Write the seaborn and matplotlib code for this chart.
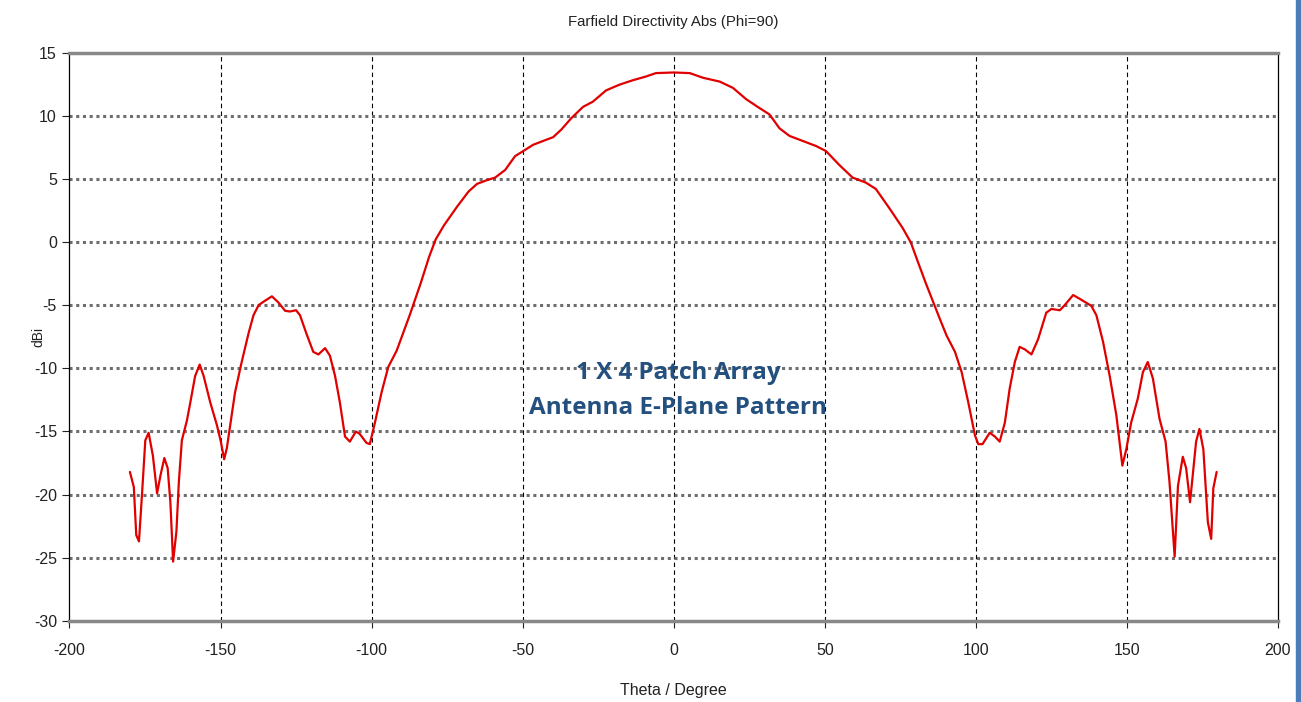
import matplotlib
matplotlib.use('Agg')

import pandas as pd
import matplotlib.pyplot as plt
import seaborn as sns
from matplotlib.patches import Rectangle

# valores (theta em graus, diretividade em dBi)
theta = [-180, -178.7, -177.9, -177, -176, -174.9, -173.8, -172.4, -171, -169.9,
         -168.6, -167.5, -166.6, -165.7, -164.6, -163.8, -162.8, -161.1, -160, -158.4,
         -156.9, -155.6, -153.4, -151.2, -149.9, -148.8, -147.9, -146.8, -145.2, -143,
         -140.7, -139.1, -137.4, -135.6, -133, -130.8, -128.6, -127, -125, -123.7,
         -121.5, -119.3, -117.6, -115.4, -113.8, -112.1, -110.5, -108.8, -107.2, -105.2,
         -103.9, -101.7, -100.6, -98.9, -96.7, -94.5, -91.7, -87.4, -83.8, -81,
         -78.8, -76.1, -71.7, -67.9, -65.1, -61.8, -59.1, -55.8, -52.5, -49.8,
         -46.5, -43.2, -39.9, -37.2, -33.9, -30, -26.8, -22.4, -18, -13.6,
         -9.2, -5.9, 0, 5.3, 9.7, 15.2, 19.6, 24, 28.4, 31.7,
         35, 38.3, 42.7, 47.1, 50.4, 54.8, 59.2, 63.6, 66.9, 71.3,
         75.8, 78.5, 80.7, 83.5, 88.1, 90.3, 93.1, 95.3, 97.5, 99.7,
         100.8, 102.2, 104.6, 106.3, 107.9, 109.6, 111.2, 112.9, 114.5, 116.2,
         118.4, 120.6, 123.3, 125, 127.8, 129.4, 132.2, 134.4, 138.2, 139.9,
         142.1, 144.3, 146.5, 148.5, 149.8, 151.4, 153.6, 155.3, 156.9, 158.6,
         160.8, 162.8, 164.1, 165.8, 166.9, 168.5, 169.6, 170.9, 172.9, 174,
         175.3, 176.8, 177.9, 178.6, 179.7]
dbi = [-18.2, -19.4, -23.2, -23.7, -20.0, -15.7, -15.1, -16.9, -19.9, -18.5,
       -17.1, -17.9, -20.6, -25.3, -22.9, -19.0, -15.7, -14.1, -12.7, -10.6,
       -9.7, -10.6, -12.7, -14.5, -15.8, -17.2, -16.3, -14.5, -11.9, -9.5,
       -7.2, -5.8, -5.0, -4.7, -4.3, -4.8, -5.45, -5.5, -5.4, -5.8,
       -7.3, -8.7, -8.9, -8.4, -9.0, -10.6, -12.7, -15.4, -15.8, -15.0,
       -15.2, -15.9, -16.0, -14.3, -11.9, -9.9, -8.6, -5.8, -3.3, -1.2,
       0.2, 1.3, 2.8, 4.0, 4.6, 4.9, 5.1, 5.7, 6.8, 7.2,
       7.7, 8.0, 8.3, 8.9, 9.8, 10.7, 11.1, 12.0, 12.45, 12.8,
       13.1, 13.37, 13.42, 13.37, 13.0, 12.7, 12.2, 11.3, 10.6, 10.1,
       9.0, 8.4, 8.0, 7.6, 7.2, 6.1, 5.1, 4.7, 4.2, 2.7,
       1.1, -0.05, -1.5, -3.3, -6.1, -7.4, -8.7, -10.3, -12.7, -15.3,
       -16.0, -16.0, -15.1, -15.4, -15.8, -14.3, -11.6, -9.5, -8.3, -8.5,
       -8.9, -7.7, -5.6, -5.3, -5.4, -5.0, -4.2, -4.5, -5.05, -5.8,
       -7.9, -10.6, -13.7, -17.7, -16.4, -14.3, -12.4, -10.3, -9.5, -10.8,
       -14.0, -15.8, -19.0, -24.9, -19.3, -17.0, -17.9, -20.6, -15.8, -14.8,
       -16.4, -22.2, -23.5, -19.5, -18.2]

x_ticks = [-200, -150, -100, -50, 0, 50, 100, 150, 200]
y_ticks = [-30, -25, -20, -15, -10, -5, 0, 5, 10, 15]

df = pd.DataFrame({'theta': theta, 'dbi': dbi})

sns.set_style('white')
plt.rcParams['font.family'] = ['Liberation Sans', 'DejaVu Sans']
plt.rcParams['axes.unicode_minus'] = False

fig = plt.figure(figsize=(13.01, 7.02), dpi=100)
ax = fig.add_axes([0.0534, 0.1154, 0.9289, 0.8098])

sns.lineplot(data=df, x='theta', y='dbi', color='#e00000', linewidth=1.6,
             estimator=None, ax=ax, zorder=5)

ax.set_xlim(-200, 200)
ax.set_ylim(-30, 15)
ax.set_xticks(x_ticks)
ax.set_yticks(y_ticks)
ax.tick_params(axis='both', direction='out', length=5, width=0.8,
               labelsize=11.5, colors='#222222', bottom=True, left=True)
ax.tick_params(axis='x', pad=11)
ax.tick_params(axis='y', pad=4)

# grade: vertical tracejada preta, horizontal pontilhada cinza
for xv in x_ticks[1:-1]:
    ax.axvline(xv, color='black', linewidth=0.8, linestyle=(0, (4, 3)), zorder=1)
for yv in y_ticks[1:-1]:
    ax.axhline(yv, color='#6e6e6e', linewidth=2.2, linestyle=(0, (1, 1.2)), zorder=1)

for side in ['top', 'bottom']:
    ax.spines[side].set_color('#888888')
    ax.spines[side].set_linewidth(2.5)
for side in ['left', 'right']:
    ax.spines[side].set_color('black')
    ax.spines[side].set_linewidth(0.9)

ax.set_xlabel('Theta / Degree', fontsize=11.5, color='#222222', labelpad=18)
ax.set_ylabel('dBi', fontsize=10, color='#222222')
ax.yaxis.set_label_coords(-0.0203, 0.5)
ax.set_title('Farfield Directivity Abs (Phi=90)', fontsize=10.8,
             color='#222222', pad=19)

ax.text(0.5035, 0.406, '1 X 4 Patch Array\nAntenna E-Plane Pattern',
        transform=ax.transAxes, ha='center', va='center', fontsize=17.5,
        fontweight='bold', color='#23507f', linespacing=1.6,
        family=['Open Sans', 'DejaVu Sans'], zorder=6)

# barra azul na borda direita
fig.add_artist(Rectangle((1296 / 1301, 0), 5 / 1301, 1,
                         transform=fig.transFigure, color='#4a7ebb'))

fig.savefig('out.png', dpi=100)
plt.close(fig)
